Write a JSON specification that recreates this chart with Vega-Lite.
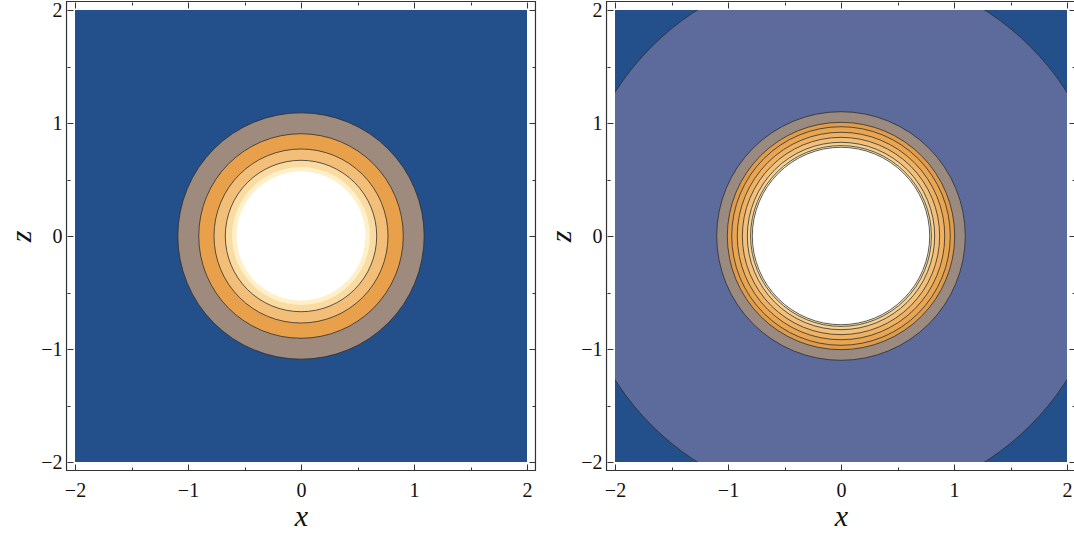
{
  "$schema": "https://vega.github.io/schema/vega-lite/v6.json",
  "background": "white",
  "padding": {"left": 6, "top": 0, "right": 0, "bottom": 0},
  "config": {
    "view": {"stroke": null},
    "font": "Liberation Serif",
    "axis": {
      "domain": false,
      "grid": false,
      "offset": 8,
      "tickColor": "#333333",
      "tickWidth": 1,
      "labelFont": "Liberation Serif",
      "labelFontSize": 20,
      "labelColor": "#111111",
      "titleFont": "Liberation Serif",
      "titleFontStyle": "italic",
      "titleFontWeight": "normal",
      "titleFontSize": 30,
      "titleColor": "#111111",
      "values": [-2, -1.8, -1.6, -1.4, -1.2, -1, -0.8, -0.6, -0.4, -0.2, 0, 0.2, 0.4, 0.6, 0.8, 1, 1.2, 1.4, 1.6, 1.8, 2],
      "labelExpr": "abs(datum.value - round(datum.value)) < 0.001 ? format(datum.value, 'd') : ''",
      "tickSize": {"condition": {"test": "abs(datum.value - round(datum.value)) < 0.001", "value": -6}, "value": -3},
      "labelFlush": false,
      "labelOverlap": false
    }
  },
  "datasets": {
    "rings": [
      {"panel": "A", "band": "A1", "r": 1.09},
      {"panel": "A", "band": "A2", "r": 0.905},
      {"panel": "A", "band": "A3", "r": 0.77},
      {"panel": "A", "band": "A4", "r": 0.67},
      {"panel": "A", "band": "A5", "r": 0.61},
      {"panel": "A", "band": "A6", "r": 0.57},
      {"panel": "B", "band": "B0", "r": 2.37},
      {"panel": "B", "band": "B1", "r": 1.1},
      {"panel": "B", "band": "B2", "r": 1.006},
      {"panel": "B", "band": "B3", "r": 0.967},
      {"panel": "B", "band": "B4", "r": 0.918},
      {"panel": "B", "band": "B5", "r": 0.873},
      {"panel": "B", "band": "B6", "r": 0.829},
      {"panel": "B", "band": "B7", "r": 0.80},
      {"panel": "B", "band": "B8", "r": 0.785}
    ]
  },
  "spacing": 88,
  "bounds": "flush",
  "resolve": {"scale": {"fill": "independent", "size": "independent"}},
  "hconcat": [
    {
      "width": 452,
      "height": 452,
      "view": {"fill": "#23508A", "stroke": null},
      "resolve": {"axis": {"x": "independent", "y": "independent"}},
      "layer": [
        {
          "data": {"name": "rings"},
          "transform": [{"filter": "datum.panel === 'A'"}],
          "mark": {"type": "point", "shape": "circle", "filled": true, "clip": true, "opacity": 1, "stroke": "#2a2a2a", "strokeWidth": 0.9},
          "encoding": {
            "x": {"datum": 0, "type": "quantitative", "scale": {"domain": [-2, 2], "nice": false, "zero": false}, "axis": {"orient": "bottom", "title": "x", "labelPadding": 16, "titlePadding": -2}},
            "y": {"datum": 0, "type": "quantitative", "scale": {"domain": [-2, 2], "nice": false, "zero": false}, "axis": {"orient": "left", "title": "z", "labelPadding": 11, "titlePadding": 4}},
            "size": {"field": "r", "type": "quantitative", "scale": {"type": "pow", "exponent": 2, "domain": [0, 2.5], "range": [0, 319225]}, "legend": null},
            "fill": {"field": "band", "type": "nominal", "scale": {"domain": ["A1", "A2", "A3", "A4", "A5", "A6"], "range": ["#9E8B7E", "#E8A04A", "#F3BE78", "#FADBA2", "#FEF0C8", "#FFFFFF"]}, "legend": null},
            "strokeOpacity": {"condition": {"test": "datum.band === 'A5' || datum.band === 'A6'", "value": 0}, "value": 0.85},
            "order": {"field": "r", "type": "quantitative", "sort": "descending"}
          }
        },
        {
          "data": {"values": [{}]},
          "mark": {"type": "rect", "fill": null, "stroke": "#333333", "strokeWidth": 1.2, "clip": false},
          "encoding": {
            "x": {"datum": -2.075, "type": "quantitative", "scale": {"domain": [-2, 2], "nice": false, "zero": false}, "axis": {"orient": "top", "title": null, "labels": false}},
            "x2": {"datum": 2.075},
            "y": {"datum": -2.075, "type": "quantitative", "scale": {"domain": [-2, 2], "nice": false, "zero": false}, "axis": {"orient": "right", "title": null, "labels": false}},
            "y2": {"datum": 2.075}
          }
        }
      ]
    },
    {
      "width": 452,
      "height": 452,
      "view": {"fill": "#23508A", "stroke": null},
      "resolve": {"axis": {"x": "independent", "y": "independent"}},
      "layer": [
        {
          "data": {"name": "rings"},
          "transform": [{"filter": "datum.panel === 'B'"}],
          "mark": {"type": "point", "shape": "circle", "filled": true, "clip": true, "opacity": 1, "stroke": "#2a2a2a", "strokeWidth": 0.9, "strokeOpacity": 0.85},
          "encoding": {
            "x": {"datum": 0, "type": "quantitative", "scale": {"domain": [-2, 2], "nice": false, "zero": false}, "axis": {"orient": "bottom", "title": "x", "labelPadding": 16, "titlePadding": -2}},
            "y": {"datum": 0, "type": "quantitative", "scale": {"domain": [-2, 2], "nice": false, "zero": false}, "axis": {"orient": "left", "title": "z", "labelPadding": 11, "titlePadding": 4}},
            "size": {"field": "r", "type": "quantitative", "scale": {"type": "pow", "exponent": 2, "domain": [0, 2.5], "range": [0, 319225]}, "legend": null},
            "fill": {"field": "band", "type": "nominal", "scale": {"domain": ["B0", "B1", "B2", "B3", "B4", "B5", "B6", "B7", "B8"], "range": ["#5C6B9C", "#9A8A80", "#DF9C4C", "#E8A652", "#EEB262", "#F2C07A", "#F6D294", "#FAE5B4", "#FFFFFF"]}, "legend": null},
            "order": {"field": "r", "type": "quantitative", "sort": "descending"}
          }
        },
        {
          "data": {"values": [{}]},
          "mark": {"type": "rect", "fill": null, "stroke": "#333333", "strokeWidth": 1.2, "clip": false},
          "encoding": {
            "x": {"datum": -2.075, "type": "quantitative", "scale": {"domain": [-2, 2], "nice": false, "zero": false}, "axis": {"orient": "top", "title": null, "labels": false}},
            "x2": {"datum": 2.075},
            "y": {"datum": -2.075, "type": "quantitative", "scale": {"domain": [-2, 2], "nice": false, "zero": false}, "axis": {"orient": "right", "title": null, "labels": false}},
            "y2": {"datum": 2.075}
          }
        }
      ]
    }
  ]
}
